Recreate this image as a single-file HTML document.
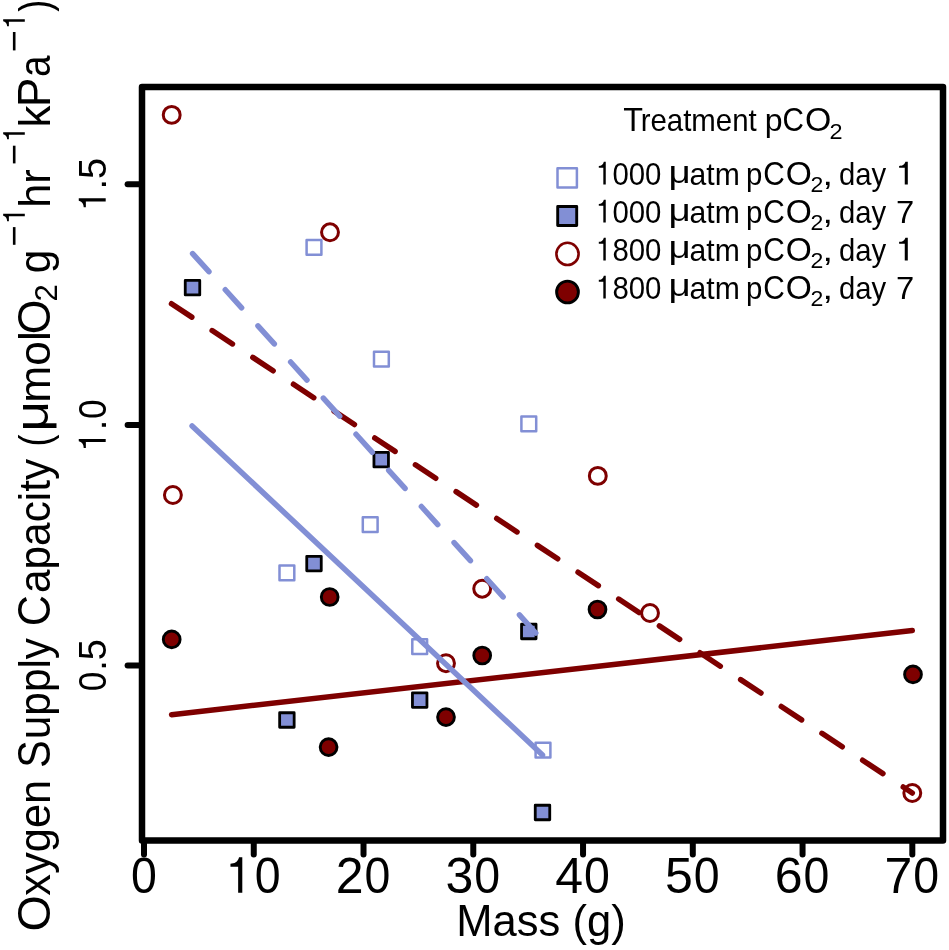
<!DOCTYPE html><html><head><meta charset="utf-8"><style>html,body{margin:0;padding:0;background:#fff;overflow:hidden;}#w{will-change:transform;width:949px;height:950px;}svg{display:block;filter:blur(0.6px);}text{font-family:"Liberation Sans", sans-serif;fill:#000;font-kerning:none;}</style></head><body><div id="w">
<svg width="949" height="950" viewBox="0 0 949 950">
<rect x="0" y="0" width="949" height="950" fill="#fff"/>
<circle cx="171.7" cy="114.9" r="8.45" fill="none" stroke="#7E0000" stroke-width="3.0"/>
<circle cx="330.0" cy="232.3" r="8.45" fill="none" stroke="#7E0000" stroke-width="3.0"/>
<circle cx="172.9" cy="495.0" r="8.45" fill="none" stroke="#7E0000" stroke-width="3.0"/>
<circle cx="597.8" cy="475.9" r="8.45" fill="none" stroke="#7E0000" stroke-width="3.0"/>
<circle cx="482.2" cy="588.7" r="8.45" fill="none" stroke="#7E0000" stroke-width="3.0"/>
<circle cx="446.0" cy="663.2" r="8.45" fill="none" stroke="#7E0000" stroke-width="3.0"/>
<circle cx="650.0" cy="613.0" r="8.45" fill="none" stroke="#7E0000" stroke-width="3.0"/>
<circle cx="912.3" cy="793.0" r="8.45" fill="none" stroke="#7E0000" stroke-width="3.0"/>
<circle cx="171.7" cy="639.4" r="8.4" fill="#7E0000" stroke="#000" stroke-width="2.9"/>
<circle cx="329.7" cy="597.0" r="8.4" fill="#7E0000" stroke="#000" stroke-width="2.9"/>
<circle cx="328.6" cy="747.1" r="8.4" fill="#7E0000" stroke="#000" stroke-width="2.9"/>
<circle cx="446.0" cy="717.1" r="8.4" fill="#7E0000" stroke="#000" stroke-width="2.9"/>
<circle cx="482.2" cy="655.5" r="8.4" fill="#7E0000" stroke="#000" stroke-width="2.9"/>
<circle cx="597.5" cy="609.5" r="8.4" fill="#7E0000" stroke="#000" stroke-width="2.9"/>
<circle cx="913.0" cy="674.4" r="8.4" fill="#7E0000" stroke="#000" stroke-width="2.9"/>
<rect x="306.60" y="240.00" width="14.80" height="14.80" fill="none" stroke="#828FD5" stroke-width="2.5" stroke-linejoin="round"/>
<rect x="374.00" y="351.80" width="14.80" height="14.80" fill="none" stroke="#828FD5" stroke-width="2.5" stroke-linejoin="round"/>
<rect x="521.40" y="416.40" width="14.80" height="14.80" fill="none" stroke="#828FD5" stroke-width="2.5" stroke-linejoin="round"/>
<rect x="362.80" y="517.30" width="14.80" height="14.80" fill="none" stroke="#828FD5" stroke-width="2.5" stroke-linejoin="round"/>
<rect x="279.50" y="565.50" width="14.80" height="14.80" fill="none" stroke="#828FD5" stroke-width="2.5" stroke-linejoin="round"/>
<rect x="412.30" y="639.30" width="14.80" height="14.80" fill="none" stroke="#828FD5" stroke-width="2.5" stroke-linejoin="round"/>
<rect x="535.60" y="742.80" width="14.80" height="14.80" fill="none" stroke="#828FD5" stroke-width="2.5" stroke-linejoin="round"/>
<rect x="185.25" y="280.45" width="14.50" height="14.50" fill="#828FD5" stroke="#000" stroke-width="2.8" stroke-linejoin="round"/>
<rect x="373.95" y="452.45" width="14.50" height="14.50" fill="#828FD5" stroke="#000" stroke-width="2.8" stroke-linejoin="round"/>
<rect x="306.75" y="556.35" width="14.50" height="14.50" fill="#828FD5" stroke="#000" stroke-width="2.8" stroke-linejoin="round"/>
<rect x="521.55" y="624.25" width="14.50" height="14.50" fill="#828FD5" stroke="#000" stroke-width="2.8" stroke-linejoin="round"/>
<rect x="279.65" y="712.75" width="14.50" height="14.50" fill="#828FD5" stroke="#000" stroke-width="2.8" stroke-linejoin="round"/>
<rect x="412.45" y="692.85" width="14.50" height="14.50" fill="#828FD5" stroke="#000" stroke-width="2.8" stroke-linejoin="round"/>
<rect x="535.25" y="805.25" width="14.50" height="14.50" fill="#828FD5" stroke="#000" stroke-width="2.8" stroke-linejoin="round"/>
<g fill="none" stroke-linecap="round" stroke-width="5.5">
<line x1="171.5" y1="303.7" x2="912.3" y2="793" stroke="#7E0000" stroke-dasharray="24.36 24.36"/>
<line x1="171.6" y1="714.7" x2="912.3" y2="630.5" stroke="#7E0000"/>
<line x1="192.6" y1="253.6" x2="542.5" y2="640.4" stroke="#828FD5" stroke-dasharray="24.36 24.36"/>
<line x1="192.1" y1="426" x2="542.5" y2="755" stroke="#828FD5"/>
</g>
<rect x="142" y="87" width="801" height="753.5" fill="none" stroke="#000" stroke-width="6.5" stroke-linejoin="round"/>
<g stroke="#000" stroke-width="6" stroke-linecap="round">
<line x1="144.00" y1="841.5" x2="144.00" y2="854.5"/>
<line x1="253.76" y1="841.5" x2="253.76" y2="854.5"/>
<line x1="363.52" y1="841.5" x2="363.52" y2="854.5"/>
<line x1="473.28" y1="841.5" x2="473.28" y2="854.5"/>
<line x1="583.04" y1="841.5" x2="583.04" y2="854.5"/>
<line x1="692.80" y1="841.5" x2="692.80" y2="854.5"/>
<line x1="802.56" y1="841.5" x2="802.56" y2="854.5"/>
<line x1="912.32" y1="841.5" x2="912.32" y2="854.5"/>
<line x1="140.5" y1="184.3" x2="127.6" y2="184.3"/>
<line x1="140.5" y1="424.9" x2="127.6" y2="424.9"/>
<line x1="140.5" y1="665.5" x2="127.6" y2="665.5"/>
</g>
<g transform="translate(130.10,892.80)"><text font-size="50" transform="translate(13.90,0) scale(0.93,1) translate(-13.90,0)" x="0.00">0</text></g>
<g transform="translate(225.95,892.80)"><path d="M327 0L244 0L244 522L90 522L90 579C170 583 236 610 262 709L327 709Z" transform="translate(0.00,0) scale(0.0500,-0.0500)"/><text font-size="50" transform="translate(41.71,0) scale(0.93,1) translate(-41.71,0)" x="27.81">0</text></g>
<g transform="translate(335.71,892.80)"><text font-size="50">2 </text><text font-size="50" transform="translate(41.71,0) scale(0.93,1) translate(-41.71,0)" x="27.81">0</text></g>
<g transform="translate(445.47,892.80)"><text font-size="50">3 </text><text font-size="50" transform="translate(41.71,0) scale(0.93,1) translate(-41.71,0)" x="27.81">0</text></g>
<g transform="translate(555.23,892.80)"><text font-size="50">4 </text><text font-size="50" transform="translate(41.71,0) scale(0.93,1) translate(-41.71,0)" x="27.81">0</text></g>
<g transform="translate(664.99,892.80)"><text font-size="50">5 </text><text font-size="50" transform="translate(41.71,0) scale(0.93,1) translate(-41.71,0)" x="27.81">0</text></g>
<g transform="translate(774.75,892.80)"><text font-size="50">6 </text><text font-size="50" transform="translate(41.71,0) scale(0.93,1) translate(-41.71,0)" x="27.81">0</text></g>
<g transform="translate(884.51,892.80)"><text font-size="50">7 </text><text font-size="50" transform="translate(41.71,0) scale(0.93,1) translate(-41.71,0)" x="27.81">0</text></g>
<g transform="translate(456.33,935.90) scale(0.9787,1.0000)"><text font-size="44.5">Mass (g)</text></g>
<g transform="translate(105.7 184.3) rotate(-90)"><g transform="translate(-26.41,0.00)"><text font-size="38"> .5</text><path d="M327 0L244 0L244 522L90 522L90 579C170 583 236 610 262 709L327 709Z" transform="translate(0.00,0) scale(0.0380,-0.0380)"/></g></g>
<g transform="translate(105.7 424.9) rotate(-90)"><g transform="translate(-26.41,0.00)"><text font-size="38"> . </text><path d="M327 0L244 0L244 522L90 522L90 579C170 583 236 610 262 709L327 709Z" transform="translate(0.00,0) scale(0.0380,-0.0380)"/><text font-size="38" transform="translate(42.26,0) scale(0.93,1) translate(-42.26,0)" x="31.69">0</text></g></g>
<g transform="translate(105.7 665.5) rotate(-90)"><g transform="translate(-26.41,0.00)"><text font-size="38"> .5</text><text font-size="38" transform="translate(10.57,0) scale(0.93,1) translate(-10.57,0)" x="0.00">0</text></g></g>
<g transform="translate(50.2,950) rotate(-90)"><g transform="translate(18.49,0.00) scale(1.0502,1.0500)"><text font-size="44.5">O</text></g><g transform="translate(54.21,0.00) scale(0.9778,1.0000)"><text font-size="44.5">xygen</text></g><g transform="translate(182.23,0.00) scale(0.9251,1.0500)"><text font-size="44.5">S</text></g><g transform="translate(210.75,0.00) scale(0.9526,1.0000)"><text font-size="44.5">upply</text></g><g transform="translate(323.80,0.00) scale(0.9723,1.0500)"><text font-size="44.5">C</text></g><g transform="translate(357.00,0.00) scale(0.9517,1.0000)"><text font-size="44.5">apacity</text></g><g transform="translate(503.45,0.00) scale(0.8137,1.0000)"><text font-size="44.5">(</text></g><g transform="translate(518.61,-2.50) scale(1.1970,1.0400)"><text font-size="44.5">μ</text></g><g transform="translate(547.25,0.00) scale(0.9989,1.0000)"><text font-size="44.5">mol</text></g><g transform="translate(615.78,0.00) scale(1.0041,1.0500)"><text font-size="44.5">O</text></g><g transform="translate(648.43,7.00) scale(1.0220,1.0000)"><text font-size="30.5">2</text></g><g transform="translate(676.63,0.00) scale(0.9494,1.0000)"><text font-size="44.5">g</text></g><g transform="translate(725.81,-25.40) scale(1.0514,1.0000)"><path d="M327 0L244 0L244 522L90 522L90 579C170 583 236 610 262 709L327 709Z" transform="translate(0.00,0) scale(0.0305,-0.0305)"/></g><g transform="translate(742.20,0.00) scale(0.9736,1.0000)"><text font-size="44.5">hr</text></g><g transform="translate(808.18,-25.40) scale(0.9546,1.0000)"><path d="M327 0L244 0L244 522L90 522L90 579C170 583 236 610 262 709L327 709Z" transform="translate(0.00,0) scale(0.0305,-0.0305)"/></g><g transform="translate(822.54,0.00) scale(0.9888,1.0000)"><text font-size="44.5">k</text></g><g transform="translate(843.11,0.00) scale(0.9838,1.0500)"><text font-size="44.5">P</text></g><g transform="translate(873.05,0.00) scale(0.8706,1.0000)"><text font-size="44.5">a</text></g><g transform="translate(921.00,-25.40) scale(0.9822,1.0000)"><path d="M327 0L244 0L244 522L90 522L90 579C170 583 236 610 262 709L327 709Z" transform="translate(0.00,0) scale(0.0305,-0.0305)"/></g><g transform="translate(938.19,0.00) scale(0.8137,1.0000)"><text font-size="44.5">)</text></g></g>
<rect x="12.9" y="227.10" width="2.6" height="17.70" fill="#000"/>
<rect x="12.9" y="145.70" width="2.6" height="17.70" fill="#000"/>
<rect x="12.9" y="32.00" width="2.6" height="18.40" fill="#000"/>
<g transform="translate(623.17,130.60) scale(1.0440,1.0500)"><text font-size="31">T</text></g>
<g transform="translate(640.65,130.60) scale(0.9496,1.0000)"><text font-size="31">reatment</text></g>
<g transform="translate(764.74,130.60) scale(1.0329,1.0000)"><text font-size="31">p</text></g>
<g transform="translate(782.49,130.60) scale(0.9576,1.0500)"><text font-size="31">C</text></g>
<g transform="translate(804.90,130.60) scale(1.0916,1.0500)"><text font-size="31">O</text></g>
<g transform="translate(829.42,138.60) scale(1.0924,1.0000)"><text font-size="21.5">2</text></g>
<g transform="translate(596.16,184.60) scale(0.9467,1.0400)"><text font-size="31"> 000</text><path d="M327 0L244 0L244 522L90 522L90 579C170 583 236 610 262 709L327 709Z" transform="translate(0.00,0) scale(0.0310,-0.0310)"/></g>
<g transform="translate(668.50,182.50) scale(1.2443,1.0000)"><text font-size="31">μ</text></g>
<g transform="translate(689.52,184.60) scale(0.9728,1.0000)"><text font-size="31">atm</text></g>
<g transform="translate(746.01,184.60) scale(0.9469,1.0000)"><text font-size="31">p</text></g>
<g transform="translate(763.28,184.60) scale(0.9627,1.0500)"><text font-size="31">C</text></g>
<g transform="translate(785.71,184.60) scale(1.0822,1.0500)"><text font-size="31">O</text></g>
<g transform="translate(810.54,192.10) scale(1.0720,1.0000)"><text font-size="21.5">2</text></g>
<g transform="translate(822.51,184.60) scale(1.2161,1.0000)"><text font-size="31">,</text></g>
<g transform="translate(839.07,184.60) scale(0.9441,1.0000)"><text font-size="31">day</text></g>
<g transform="translate(895.80,184.60) scale(1.1842,1.0400)"><path d="M327 0L244 0L244 522L90 522L90 579C170 583 236 610 262 709L327 709Z" transform="translate(0.00,0) scale(0.0310,-0.0310)"/></g>
<g transform="translate(596.16,222.60) scale(0.9467,1.0400)"><text font-size="31"> 000</text><path d="M327 0L244 0L244 522L90 522L90 579C170 583 236 610 262 709L327 709Z" transform="translate(0.00,0) scale(0.0310,-0.0310)"/></g>
<g transform="translate(668.50,220.50) scale(1.2443,1.0000)"><text font-size="31">μ</text></g>
<g transform="translate(689.52,222.60) scale(0.9728,1.0000)"><text font-size="31">atm</text></g>
<g transform="translate(746.01,222.60) scale(0.9469,1.0000)"><text font-size="31">p</text></g>
<g transform="translate(763.28,222.60) scale(0.9627,1.0500)"><text font-size="31">C</text></g>
<g transform="translate(785.71,222.60) scale(1.0822,1.0500)"><text font-size="31">O</text></g>
<g transform="translate(810.54,230.10) scale(1.0720,1.0000)"><text font-size="21.5">2</text></g>
<g transform="translate(822.51,222.60) scale(1.2161,1.0000)"><text font-size="31">,</text></g>
<g transform="translate(839.07,222.60) scale(0.9441,1.0000)"><text font-size="31">day</text></g>
<g transform="translate(896.02,222.60) scale(1.0573,1.0400)"><text font-size="31">7</text></g>
<g transform="translate(596.16,260.50) scale(0.9467,1.0400)"><text font-size="31"> 800</text><path d="M327 0L244 0L244 522L90 522L90 579C170 583 236 610 262 709L327 709Z" transform="translate(0.00,0) scale(0.0310,-0.0310)"/></g>
<g transform="translate(668.50,258.40) scale(1.2443,1.0000)"><text font-size="31">μ</text></g>
<g transform="translate(689.52,260.50) scale(0.9728,1.0000)"><text font-size="31">atm</text></g>
<g transform="translate(746.01,260.50) scale(0.9469,1.0000)"><text font-size="31">p</text></g>
<g transform="translate(763.28,260.50) scale(0.9627,1.0500)"><text font-size="31">C</text></g>
<g transform="translate(785.71,260.50) scale(1.0822,1.0500)"><text font-size="31">O</text></g>
<g transform="translate(810.54,268.00) scale(1.0720,1.0000)"><text font-size="21.5">2</text></g>
<g transform="translate(822.51,260.50) scale(1.2161,1.0000)"><text font-size="31">,</text></g>
<g transform="translate(839.07,260.50) scale(0.9441,1.0000)"><text font-size="31">day</text></g>
<g transform="translate(895.80,260.50) scale(1.1842,1.0400)"><path d="M327 0L244 0L244 522L90 522L90 579C170 583 236 610 262 709L327 709Z" transform="translate(0.00,0) scale(0.0310,-0.0310)"/></g>
<g transform="translate(596.16,298.50) scale(0.9467,1.0400)"><text font-size="31"> 800</text><path d="M327 0L244 0L244 522L90 522L90 579C170 583 236 610 262 709L327 709Z" transform="translate(0.00,0) scale(0.0310,-0.0310)"/></g>
<g transform="translate(668.50,296.40) scale(1.2443,1.0000)"><text font-size="31">μ</text></g>
<g transform="translate(689.52,298.50) scale(0.9728,1.0000)"><text font-size="31">atm</text></g>
<g transform="translate(746.01,298.50) scale(0.9469,1.0000)"><text font-size="31">p</text></g>
<g transform="translate(763.28,298.50) scale(0.9627,1.0500)"><text font-size="31">C</text></g>
<g transform="translate(785.71,298.50) scale(1.0822,1.0500)"><text font-size="31">O</text></g>
<g transform="translate(810.54,306.00) scale(1.0720,1.0000)"><text font-size="21.5">2</text></g>
<g transform="translate(822.51,298.50) scale(1.2161,1.0000)"><text font-size="31">,</text></g>
<g transform="translate(839.07,298.50) scale(0.9441,1.0000)"><text font-size="31">day</text></g>
<g transform="translate(896.02,298.50) scale(1.0573,1.0400)"><text font-size="31">7</text></g>
<rect x="557.50" y="168.20" width="19.40" height="19.40" fill="none" stroke="#828FD5" stroke-width="2.5" stroke-linejoin="round"/>
<rect x="557.70" y="206.50" width="19.00" height="19.00" fill="#828FD5" stroke="#000" stroke-width="2.9" stroke-linejoin="round"/>
<circle cx="567.5" cy="253.9" r="11.1" fill="none" stroke="#7E0000" stroke-width="2.6"/>
<circle cx="567.5" cy="292.0" r="10.9" fill="#7E0000" stroke="#000" stroke-width="2.9"/>
</svg></div></body></html>
